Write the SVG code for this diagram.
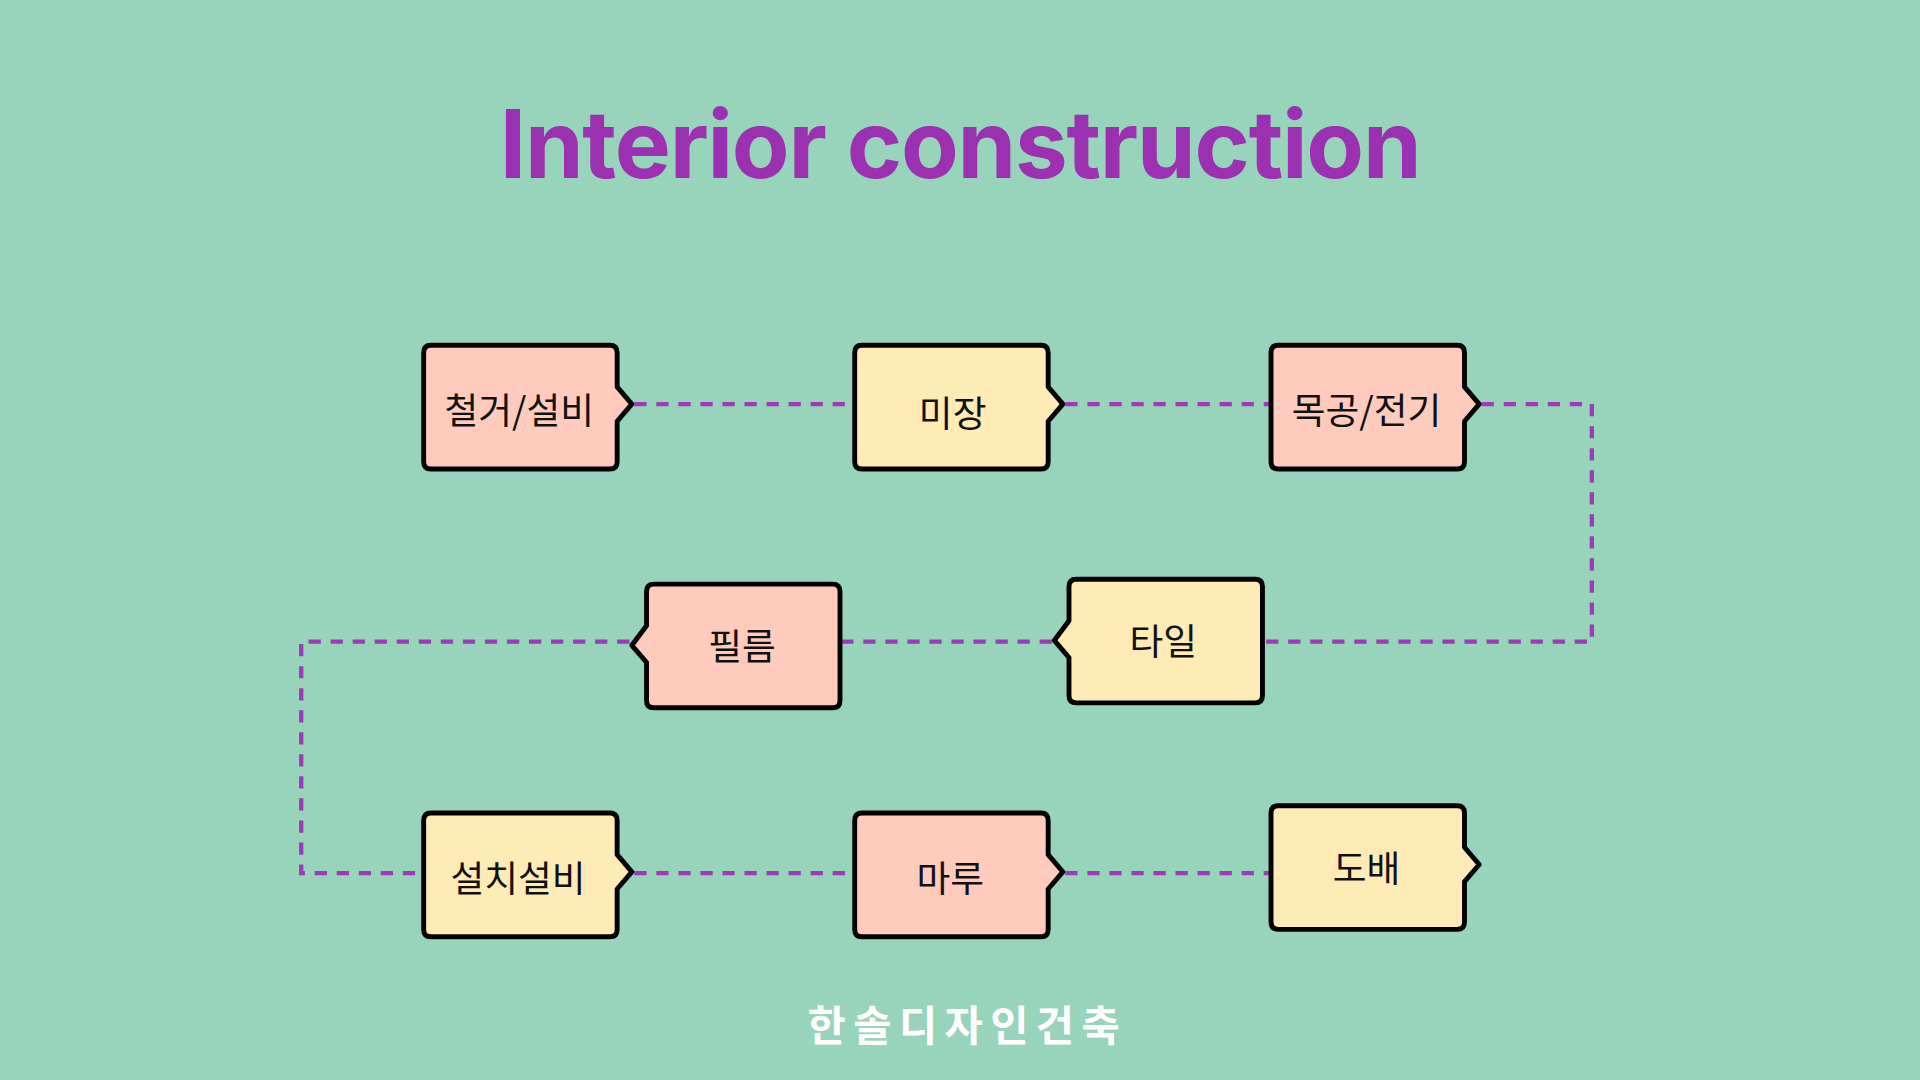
<svg xmlns="http://www.w3.org/2000/svg" width="1920" height="1080" viewBox="0 0 1920 1080">
<style>
.n{stroke:#000;stroke-width:4;stroke-linejoin:round}
.p{fill:#ffcbbd}.y{fill:#ffebb5}
.t{font-family:"Noto Sans CJK KR","Noto Sans",sans-serif;font-size:30px;fill:#111;text-anchor:middle;dominant-baseline:central}
.c{fill:none;stroke:#9b3bb5;stroke-width:3.5;stroke-dasharray:10 8}
</style>
<defs>
<path id="R" d="M6,0 H152 Q158,0 158,6 V34 L170,48 L158,62 V95 Q158,101 152,101 H6 Q0,101 0,95 V6 Q0,0 6,0Z"/>
<path id="L" d="M152,0 H6 Q0,0 0,6 V34 L-12,50 L0,64 V95 Q0,101 6,101 H152 Q158,101 158,95 V6 Q158,0 152,0Z"/>
</defs>
<rect width="1920" height="1080" fill="#98d3bb"/>
<g transform="scale(1.2245)">
<text x="784" y="145" font-family="Inter,'Noto Sans',sans-serif" font-weight="bold" font-size="77" fill="#9b30b0" text-anchor="middle" letter-spacing="-1">Interior construction</text>
<g id="connectors">
<path class="c" d="M518,330 H698 M870,330 H1038 M1210,330 H1300 V524 H1031 M859,524 H686 M514,524 H246 V713 H346 M518,713 H698 M870,713 H1038"/>
</g>
<g id="n1"><use href="#R" class="n p" x="346" y="282"/><text class="t" x="424" y="333">철거/설비</text></g>
<g id="n2"><use href="#R" class="n y" x="698" y="282"/><text class="t" x="778" y="336">미장</text></g>
<g id="n3"><use href="#R" class="n p" x="1038" y="282"/><text class="t" x="1116" y="333">목공/전기</text></g>
<g id="n4"><use href="#L" class="n y" x="873" y="473"/><text class="t" x="950" y="522">타일</text></g>
<g id="n5"><use href="#L" class="n p" x="528" y="477"/><text class="t" x="606" y="526">필름</text></g>
<g id="n6"><use href="#R" class="n y" x="346" y="664"/><text class="t" x="423" y="715">설치설비</text></g>
<g id="n7"><use href="#R" class="n p" x="698" y="664"/><text class="t" x="776" y="715">마루</text></g>
<g id="n8"><use href="#R" class="n y" x="1038" y="658"/><text class="t" x="1116" y="707">도배</text></g>
<text x="790" y="850" font-family="'Noto Sans CJK KR',sans-serif" font-weight="bold" font-size="34" fill="#fff" text-anchor="middle" letter-spacing="6">한솔디자인건축</text>
</g>
</svg>
